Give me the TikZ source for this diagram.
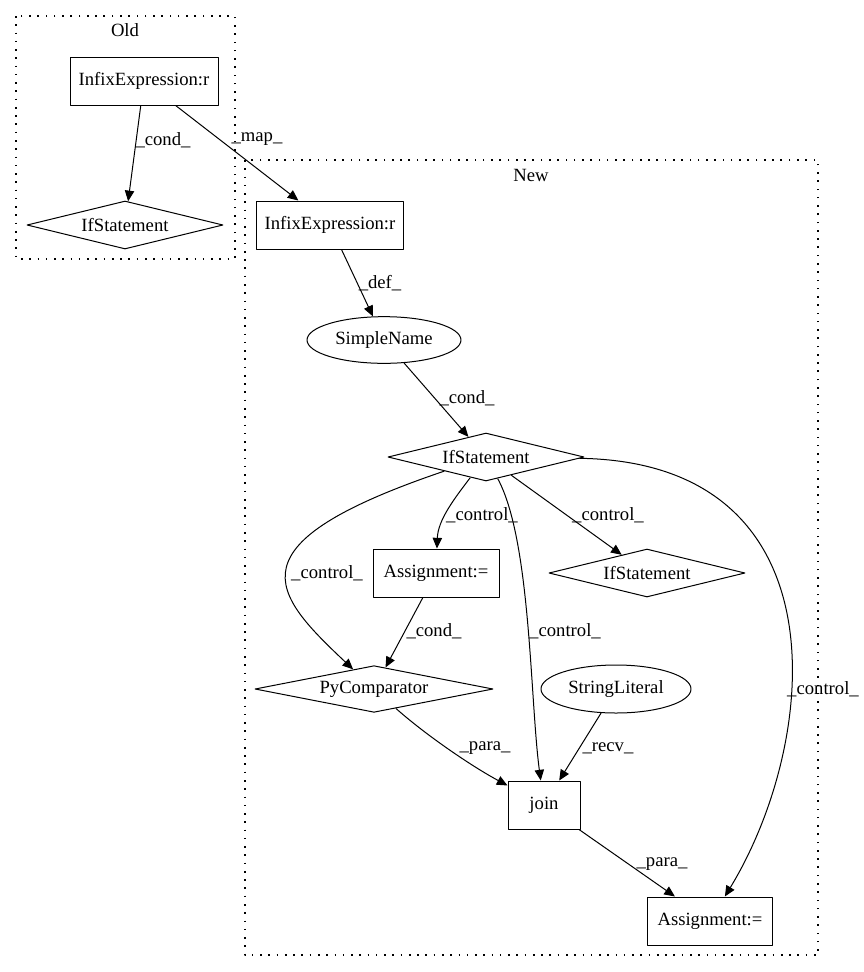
\documentclass[tikz,border=0pt]{standalone}
\usepackage{fontspec}
\setmainfont{Liberation Serif}
\usetikzlibrary{shapes.geometric,arrows.meta}

\begin{document}
\begin{tikzpicture}[x=0.75pt, y=0.75pt, font=\fontsize{14}{16}\selectfont, line join=round, >={Triangle[length=8pt,width=7pt]},
		box/.style={draw, line width=0.75pt, rectangle, minimum height=36pt, inner sep=0pt},
		cond/.style={draw, line width=0.75pt, diamond, aspect=4.08, minimum width=147pt, minimum height=36pt, inner sep=0pt},
		oval/.style={draw, line width=0.75pt, ellipse, minimum height=36pt, inner sep=0pt},
		edge/.style={->, line width=0.75pt},
		elabel/.style={inner sep=0pt},
		cluster/.style={line width=0.8pt, dash pattern=on 1.2pt off 5pt}]
			\useasboundingbox (0,0) rectangle (864,-972);
			\draw[cluster] (16,-16) rectangle (235,-259);
			\draw[cluster] (245,-160) rectangle (818,-955);
			\node[elabel] (oldLabel) at (125,-30) {Old};
			\node[elabel] (newLabel) at (531,-175) {New};
			\node[box, minimum width=111pt] (oldInfix) at (144,-81) {InfixExpression:r};
			\node[cond] (oldIf) at (125,-225) {IfStatement};
			\node[box, minimum width=110pt] (newInfix) at (330,-225) {InfixExpression:r};
			\node[oval, minimum width=115.5pt, minimum height=35pt] (simpleName) at (384,-340) {SimpleName};
			\node[cond] (ifTop) at (486,-457) {IfStatement};
			\node[box, minimum width=94.5pt] (assignA) at (436,-573) {Assignment:=};
			\node[cond] (ifRight) at (647,-573) {IfStatement};
			\node[cond, aspect=5.1, minimum width=178.5pt, minimum height=35pt] (pyComp) at (374,-689) {PyComparator};
			\node[oval, minimum width=112.5pt] (strLit) at (616,-689) {StringLiteral};
			\node[box, minimum width=54pt] (join) at (544,-805) {join};
			\node[box, minimum width=94pt] (assignB) at (710,-921) {Assignment:=};
			\draw[edge] (oldInfix) -- (oldIf);
			\draw[edge] (oldInfix) -- (newInfix);
			\draw[edge] (newInfix) -- (simpleName);
			\draw[edge] (simpleName) -- (ifTop);
			\draw[edge] (ifTop) .. controls (454,-499) and (438,-520) .. (assignA);
			\draw[edge] (ifTop) -- (ifRight);
			\draw[edge] (ifTop) .. controls (229,-544) and (271,-592) .. (pyComp);
			\draw[edge] (ifTop) .. controls (531,-540) and (530,-700) .. (join);
			\draw[edge] (ifTop) .. controls (845,-462) and (820,-740) .. (assignB);
			\draw[edge] (assignA) -- (pyComp);
			\draw[edge] (pyComp) .. controls (427,-736) and (473,-767) .. (join);
			\draw[edge] (strLit) -- (join);
			\draw[edge] (join) -- (assignB);
			\node[elabel] (lCondOld) at (163,-140) {\_cond\_};
			\node[elabel] (lMap) at (257,-139) {\_map\_};
			\node[elabel] (lDef) at (380,-283) {\_def\_};
			\node[elabel] (lCondIf) at (467,-398) {\_cond\_};
			\node[elabel] (lCtrlA) at (482,-515) {\_control\_};
			\node[elabel] (lCtrlIf) at (608,-515) {\_control\_};
			\node[elabel] (lCtrlPy) at (327,-573) {\_control\_};
			\node[elabel] (lCtrlJoin) at (565,-631) {\_control\_};
			\node[elabel] (lCtrlB) at (823,-689) {\_control\_};
			\node[elabel] (lCondPy) at (434,-631) {\_cond\_};
			\node[elabel] (lParaJoin) at (485,-748) {\_para\_};
			\node[elabel] (lRecv) at (608,-748) {\_recv\_};
			\node[elabel] (lParaB) at (662,-864) {\_para\_};
		\end{tikzpicture}
\end{document}
